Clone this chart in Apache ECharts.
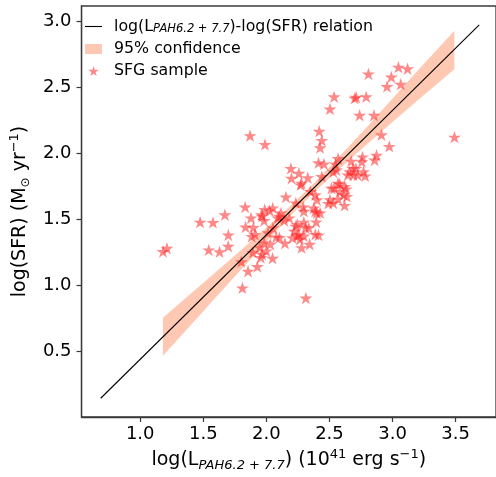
<!DOCTYPE html>
<html>
<head>
<meta charset="utf-8">
<script src="https://cdn.jsdelivr.net/npm/echarts@6/dist/echarts.min.js"></script>
<style>html,body{margin:0;padding:0;background:#fff}#c{width:496px;height:477px}</style>
</head>
<body>
<div id="c"></div>
<script>
// ---- data ----
const xTicks = [1.0, 1.5, 2.0, 2.5, 3.0, 3.5];
const yTicks = [0.5, 1.0, 1.5, 2.0, 2.5, 3.0];

const fitX = [0.687, 3.687];
const fitY = [0.147, 2.975];

const bandX    = [1.18, 1.40, 1.60, 1.80, 2.00, 2.20, 2.40, 2.60, 2.80, 3.00, 3.20, 3.49];
const bandLow  = [0.468, 0.700, 0.912, 1.123, 1.332, 1.536, 1.726, 1.903, 2.072, 2.239, 2.405, 2.638];
const bandHigh = [0.756, 0.938, 1.104, 1.269, 1.438, 1.612, 1.798, 1.999, 2.206, 2.417, 2.629, 2.930];

const sfgX = [
  1.181, 1.212, 1.475, 1.577, 1.543, 1.629, 1.671, 1.698, 1.698, 1.832,
  1.835, 1.878, 1.884, 1.871, 1.989, 1.801, 1.855, 1.810, 1.928, 1.893,
  2.313, 2.049, 1.987, 2.051, 1.966, 2.103, 2.233, 2.297, 2.258, 2.297,
  2.103, 2.147, 1.948, 1.909, 1.897, 2.343, 2.155, 2.271, 2.292, 2.349,
  2.194, 2.258, 2.199, 2.328, 2.279, 2.233, 2.388, 2.401, 2.375, 2.388,
  2.426, 2.395, 2.388, 2.413, 2.297, 2.310, 2.245, 2.220, 2.245, 2.207,
  2.266, 2.279, 2.181, 2.142, 2.116, 2.090, 2.026, 1.961, 1.982, 2.052,
  2.013, 2.078, 1.982, 1.966, 1.999, 2.031, 1.956, 2.809, 3.047, 3.119,
  2.990, 2.956, 3.065, 2.537, 2.504, 2.700, 2.712, 2.791, 2.739, 2.853,
  2.912, 2.974, 3.491, 2.419, 2.439, 2.426, 2.762, 2.873, 2.858, 2.757,
  2.413, 2.457, 2.548, 2.568, 2.530, 2.672, 2.659, 2.710, 2.690, 2.770,
  2.783, 2.646, 2.439, 2.537, 2.581, 2.633, 2.612, 2.568, 2.504, 2.491,
  2.638, 2.620, 2.555, 2.685, 2.723, 2.400, 2.516, 2.568, 2.620, 2.581,
  2.530, 2.336
];
const sfgY = [
  1.258, 1.283, 1.481, 1.479, 1.271, 1.256, 1.537, 1.384, 1.298, 1.595,
  1.444, 1.513, 1.373, 2.136, 2.070, 1.182, 1.109, 0.983, 1.145, 1.251,
  0.906, 1.207, 1.576, 1.589, 1.526, 1.526, 1.451, 1.481, 1.388, 1.376,
  1.364, 1.321, 1.289, 1.388, 1.440, 1.313, 1.671, 1.763, 1.596, 1.714,
  1.888, 1.851, 1.813, 1.818, 1.776, 1.626, 1.688, 1.651, 1.588, 1.563,
  1.551, 1.483, 1.388, 1.383, 1.563, 1.438, 1.463, 1.413, 1.376, 1.363,
  1.351, 1.288, 1.513, 1.493, 1.551, 1.513, 1.568, 1.538, 1.493, 1.438,
  1.401, 1.368, 1.326, 1.238, 1.263, 1.313, 1.213, 2.603, 2.655, 2.643,
  2.580, 2.508, 2.525, 2.430, 2.338, 2.420, 2.428, 2.430, 2.290, 2.290,
  2.143, 2.055, 2.125, 2.170, 2.100, 2.045, 1.975, 1.988, 1.951, 1.938,
  1.931, 1.921, 1.921, 1.963, 1.863, 1.943, 1.863, 1.888, 1.838, 1.863,
  1.831, 1.838, 1.826, 1.738, 1.771, 1.733, 1.688, 1.656, 1.651, 1.623,
  1.676, 1.608, 1.876, 1.888, 1.838, 1.551, 1.738, 1.776, 1.751, 1.714,
  1.626, 1.438
];

const legendLabels = {
  'fit': '{b|log(L}{s|PAH6.2 + 7.7}{a|)-log(SFR) relation}',
  '95% confidence': '{b|95% confidence}',
  'SFG sample': '{b|SFG sample}'
};

// ---- chart ----
const FONT = 'DejaVu Sans';
const STAR = 'path://M0,-100L22.45,-30.9L95.1,-30.9L36.33,11.8L58.78,80.9L0,38.2L-58.78,80.9L-36.33,11.8L-95.1,-30.9L-22.45,-30.9Z';
const starColor = 'rgba(255,30,30,0.66)';
const bandColor = 'rgba(255,160,122,0.58)';
const axisColor = '#3a3a3a';

const chart = echarts.init(document.getElementById('c'), null, {renderer: 'canvas'});

const bandData = bandX.map((x, i) => [x, bandLow[i], bandHigh[i]]);
const fitData = fitX.map((x, i) => [x, fitY[i]]);
const sfgData = sfgX.map((x, i) => [x, sfgY[i]]);

function renderBand(params, api) {
  if (params.dataIndex !== 0) return null;
  const upper = [], lower = [];
  for (let i = 0; i < bandX.length; i++) {
    upper.push(api.coord([bandX[i], bandHigh[i]]));
    lower.push(api.coord([bandX[i], bandLow[i]]));
  }
  const pts = upper.concat(lower.reverse());
  return {
    type: 'polygon',
    shape: {points: pts},
    style: {fill: bandColor, stroke: null},
    silent: true
  };
}

chart.setOption({
  animation: false,
  backgroundColor: '#fff',
  textStyle: {fontFamily: FONT},
  grid: {
    left: 73, top: 6, width: 424, height: 415,
    show: true, borderColor: axisColor, borderWidth: 1.3, backgroundColor: 'transparent'
  },
  legend: {
    orient: 'vertical',
    left: 85, top: 18,
    padding: 0,
    itemGap: 6,
    itemWidth: 17, itemHeight: 10,
    selectedMode: false,
    data: [
      {name: 'fit', icon: 'path://M0,0L17,0L17,1.1L0,1.1Z', itemStyle: {color: '#000'}},
      {name: '95% confidence', icon: 'rect', itemStyle: {color: bandColor}},
      {name: 'SFG sample', icon: STAR, itemStyle: {color: starColor}}
    ],
    formatter: name => legendLabels[name],
    textStyle: {
      fontFamily: FONT,
      rich: {
        b: {fontSize: 15.8, color: '#000', fontFamily: FONT, lineHeight: 17, padding: [0, 0, 0, 7]},
        a: {fontSize: 15.8, color: '#000', fontFamily: FONT, lineHeight: 17},
        s: {fontSize: 11.5, color: '#000', fontFamily: FONT, fontStyle: 'italic', lineHeight: 17, verticalAlign: 'bottom', padding: [5, 0, 0, 0]}
      }
    }
  },
  xAxis: {
    type: 'value',
    min: 0.535, max: 3.82,
    splitLine: {show: false},
    axisLine: {show: true, onZero: false, lineStyle: {color: axisColor, width: 1.3}},
    axisTick: {show: true, length: 5, customValues: xTicks, lineStyle: {color: axisColor, width: 1.2}},
    axisLabel: {
      customValues: xTicks, margin: 8, color: '#000', fontSize: 18, fontFamily: FONT,
      formatter: v => v.toFixed(1)
    },
    name: '{n|log(L}{s|PAH6.2 + 7.7}{n|) (10}{p|41}{n| erg s}{p|−1}{n|)}',
    nameLocation: 'middle',
    nameGap: 31,
    nameTextStyle: {
      rich: {
        n: {fontSize: 19, color: '#000', fontFamily: FONT, lineHeight: 24},
        s: {fontSize: 13, color: '#000', fontFamily: FONT, fontStyle: 'italic', lineHeight: 24, verticalAlign: 'bottom'},
        p: {fontSize: 13, color: '#000', fontFamily: FONT, lineHeight: 24, verticalAlign: 'top'}
      }
    }
  },
  yAxis: {
    type: 'value',
    min: 0.005, max: 3.118,
    splitLine: {show: false},
    axisLine: {show: true, onZero: false, lineStyle: {color: axisColor, width: 1.3}},
    axisTick: {show: true, length: 5, customValues: yTicks, lineStyle: {color: axisColor, width: 1.2}},
    axisLabel: {
      customValues: yTicks, margin: 10, color: '#000', fontSize: 18, fontFamily: FONT,
      formatter: v => v.toFixed(1)
    },
    name: '{n|log(SFR) (M}{s|⊙}{n| yr}{p|−1}{n|)}',
    nameLocation: 'middle',
    nameGap: 44,
    nameTextStyle: {
      rich: {
        n: {fontSize: 19, color: '#000', fontFamily: FONT, lineHeight: 24},
        s: {fontSize: 12, color: '#000', fontFamily: FONT, lineHeight: 24, verticalAlign: 'bottom'},
        p: {fontSize: 13, color: '#000', fontFamily: FONT, lineHeight: 24, verticalAlign: 'top'}
      }
    }
  },
  series: [
    {
      name: '95% confidence', type: 'custom', data: bandData,
      encode: {x: 0, y: [1, 2]},
      renderItem: renderBand,
      itemStyle: {color: bandColor}, silent: true, z: 1
    },
    {
      name: 'SFG sample', type: 'scatter', data: sfgData,
      symbol: STAR, symbolSize: [13, 12.4], itemStyle: {color: starColor}, z: 2
    },
    {
      name: 'fit', type: 'line', data: fitData,
      symbol: 'none', lineStyle: {color: '#000', width: 1.1}, itemStyle: {color: '#000'}, z: 3
    }
  ]
});
</script>
</body>
</html>
